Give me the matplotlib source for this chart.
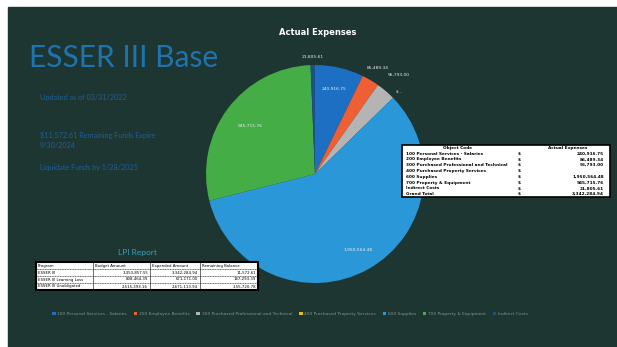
import numpy as np
import matplotlib.pyplot as plt
from matplotlib.patches import Rectangle

# expense categories and actual amounts
object_codes = [
    "100 Personal Services - Salaries",
    "200 Employee Benefits",
    "300 Purchased Professional and Technical",
    "400 Purchased Property Services",
    "600 Supplies",
    "700 Property & Equipment",
    "Indirect Costs",
]
actual_expenses = [240916.75, 86489.34, 96793.00, 0.0, 1950564.48, 945715.76, 21805.61]
slice_colors = ["#1c6fc2", "#ee5f33", "#b4b4b4", "#e8c000", "#2a98d8", "#45ad45", "#1d4f8a"]

# LPI report table
lpi_header = ["Program", "Budget Amount", "Expended Amount", "Remaining Balance"]
lpi_programs = ["ESSER III", "ESSER III Learning Loss", "ESSER III Unobligated"]
lpi_budget = [3353857.55, 838464.39, 2515393.16]
lpi_expended = [3342284.94, 671171.00, 2671113.94]
lpi_remaining = [11572.61, 167293.39, -155720.78]

info_lines = [
    (97, "Updated as of 03/31/2022"),
    (135, "$11,572.61 Remaining Funds Expire"),
    (145, "9/30/2024"),
    (167, "Liquidate Funds by 1/28/2025"),
]

BG = "#1e3631"
W, H = 617, 347

fig = plt.figure(figsize=(W / 100, H / 100), dpi=100, facecolor="white")

# slide background
bg = fig.add_axes([0, 0, 1, 1])
bg.set_xlim(0, W)
bg.set_ylim(H, 0)
bg.axis("off")
bg.add_patch(Rectangle((8, 7), W - 8, H - 7, color=BG))

# pie
cx, cy, r = 315, 174, 109
pax = fig.add_axes([(cx - r) / W, (H - cy - r) / H, 2 * r / W, 2 * r / H])
wedges, _ = pax.pie(actual_expenses, colors=slice_colors, startangle=90,
                    counterclock=False, radius=1,
                    wedgeprops=dict(linewidth=0))
pax.set_xlim(-1, 1)
pax.set_ylim(-1, 1)
pax.axis("off")

# label radius per slice (inside for big ones, outside for small ones)
label_r = [0.80, 1.13, 1.19, 1.08, 0.80, 0.74, 1.07]
for w, val, lr in zip(wedges, actual_expenses, label_r):
    mid = np.deg2rad((w.theta1 + w.theta2) / 2)
    txt = "$ -" if val == 0 else "{:,.2f}".format(val)
    pax.text(lr * np.cos(mid), lr * np.sin(mid), txt, fontsize=3.2,
             color="#e8eeee", ha="center", va="center", clip_on=False)

# overlay: titles, notes, tables
top = fig.add_axes([0, 0, 1, 1], zorder=5)
top.set_xlim(0, W)
top.set_ylim(H, 0)
top.axis("off")

top.text(29, 58, "ESSER III Base", fontsize=21.5, color="#1f74b0",
         family="Lato", va="center", ha="left")
for y, s in info_lines:
    top.text(40, y, s, fontsize=5.2, color="#1d5f98", family="Lato",
             va="center", ha="left")

top.text(318, 32, "Actual Expenses", fontsize=6, color="white",
         fontweight="bold", ha="center", va="center")

# object code table
tx0, tx1, ty0, ty1 = 402, 610, 145, 197
top.add_patch(Rectangle((tx0, ty0), tx1 - tx0, ty1 - ty0, facecolor="white",
                        edgecolor="black", linewidth=1.2))
nrows = len(object_codes) + 2
rh = (ty1 - ty0) / nrows
fs = 3.1
top.text(458, ty0 + rh / 2, "Object Code", fontsize=fs, fontweight="bold",
         ha="center", va="center")
top.text(568, ty0 + rh / 2, "Actual Expenses", fontsize=fs, fontweight="bold",
         ha="center", va="center")
rows = list(zip(object_codes, actual_expenses)) + [("Grand Total", sum(actual_expenses))]
for i, (name, val) in enumerate(rows):
    y = ty0 + rh * (i + 1.5)
    top.text(406, y, name, fontsize=fs, fontweight="bold", ha="left", va="center")
    top.text(518, y, "$", fontsize=fs, fontweight="bold", ha="left", va="center")
    if val != 0:
        top.text(604, y, "{:,.2f}".format(val), fontsize=fs, fontweight="bold",
                 ha="right", va="center")

# LPI report
top.text(137, 253, "LPI Report", fontsize=6, color="#3c9fb4", family="Lato",
         ha="center", va="center")
lx = [36, 93, 150, 200, 258]
ly0, ly1 = 262, 290
top.add_patch(Rectangle((lx[0], ly0), lx[-1] - lx[0], ly1 - ly0, facecolor="white",
                        edgecolor="black", linewidth=1.5))
lrh = (ly1 - ly0) / 4
for x in lx[1:-1]:
    top.plot([x, x], [ly0, ly1], color="black", linewidth=0.4)
for k in range(1, 4):
    top.plot([lx[0], lx[-1]], [ly0 + k * lrh] * 2, color="black", linewidth=0.4,
             linestyle=(0, (2, 1)))
lfs = 2.8
for j, s in enumerate(lpi_header):
    top.text(lx[j] + 2, ly0 + lrh / 2, s, fontsize=lfs, ha="left", va="center")
for i, prog in enumerate(lpi_programs):
    y = ly0 + lrh * (i + 1.5)
    top.text(lx[0] + 2, y, prog, fontsize=lfs, ha="left", va="center")
    for j, v in enumerate([lpi_budget[i], lpi_expended[i], lpi_remaining[i]]):
        top.text(lx[j + 2] - 2, y, "{:,.2f}".format(v), fontsize=lfs,
                 ha="right", va="center")

leg = fig.legend(wedges, object_codes, loc="center", bbox_to_anchor=(290 / W, 1 - 314 / H),
                 ncol=7, fontsize=3.2, frameon=False, handlelength=0.8,
                 handleheight=0.8, columnspacing=1.5, handletextpad=0.4)
for t in leg.get_texts():
    t.set_color("#7f9490")

fig.savefig("out.png", dpi=100, facecolor="white")
